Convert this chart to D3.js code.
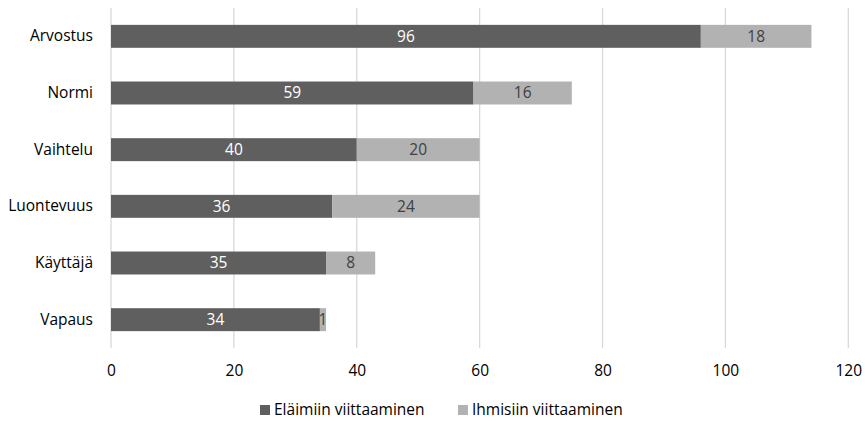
<!DOCTYPE html>
<html><head><meta charset="utf-8">
<script src="https://cdn.jsdelivr.net/npm/d3@7"></script>
<style>body{margin:0;background:#fff;} svg{display:block;font-family:"Open Sans", sans-serif;}</style>
</head><body>
<svg id="c" width="865" height="421"></svg>
<script>
const categories = ["Arvostus","Normi","Vaihtelu","Luontevuus","Käyttäjä","Vapaus"];
const animals = [96,59,40,36,35,34];
const humans = [18,16,20,24,8,1];
const seriesNames = ["Eläimiin viittaaminen","Ihmisiin viittaaminen"];
const ticks = [0,20,40,60,80,100,120];
const colors = ["#5f5f5f","#b2b2b2"];
const labelColors = ["#ffffff","#404040"];
const FONT = "'Open Sans', sans-serif";
const FS = 15.5;

const svg = d3.select("#c");
const x = d3.scaleLinear().domain([0,120]).range([111,848.3]);
const y = d3.scaleBand().domain(categories).range([8,348]).paddingInner(0.595).paddingOuter(0.2975);

svg.append("g").selectAll("line").data(ticks).join("line")
  .attr("x1",d=>x(d)).attr("x2",d=>x(d)).attr("y1",8).attr("y2",348)
  .attr("stroke","#d9d9d9").attr("stroke-width",1.3);

const data = categories.map((c,i)=>({cat:c, vals:[animals[i],humans[i]]}));
const stack = [];
data.forEach(d=>{
  let s=0;
  d.vals.forEach((v,k)=>{ stack.push({cat:d.cat,k,x0:s,x1:s+v,v}); s+=v; });
});

svg.append("g").selectAll("rect").data(stack).join("rect")
  .attr("x",d=>x(d.x0)).attr("width",d=>x(d.x1)-x(d.x0))
  .attr("y",d=>y(d.cat)).attr("height",y.bandwidth())
  .attr("fill",d=>colors[d.k]);

svg.append("g").selectAll("text").data(stack).join("text")
  .attr("x",d=>(x(d.x0)+x(d.x1))/2).attr("y",d=>y(d.cat)+y.bandwidth()/2)
  .attr("dy","0.35em").attr("text-anchor","middle")
  .attr("font-family",FONT).attr("font-size",FS).attr("fill",d=>labelColors[d.k])
  .text(d=>d.v);

const yAxis = d3.axisLeft(y).tickSize(0).tickPadding(18);
const ya = svg.append("g").attr("transform","translate(111,0)").call(yAxis);
ya.select(".domain").remove();
ya.selectAll("text").attr("font-size",FS).attr("fill","#000").attr("font-family",FONT);

const xAxis = d3.axisBottom(x).tickValues(ticks).tickSize(0).tickPadding(0);
const xa = svg.append("g").attr("transform","translate(0,365)").call(xAxis);
xa.select(".domain").remove();
xa.selectAll("text").attr("font-size",FS).attr("fill","#000").attr("font-family",FONT);

const leg = svg.append("g");
const lx = [260,458];
seriesNames.forEach((n,i)=>{
  leg.append("rect").attr("x",lx[i]).attr("y",405).attr("width",10).attr("height",10).attr("fill",colors[i]);
  leg.append("text").attr("x",lx[i]+14).attr("y",410).attr("dy","0.35em")
    .attr("font-family",FONT).attr("font-size",FS).attr("fill","#000").text(n);
});
</script>
</body></html>
